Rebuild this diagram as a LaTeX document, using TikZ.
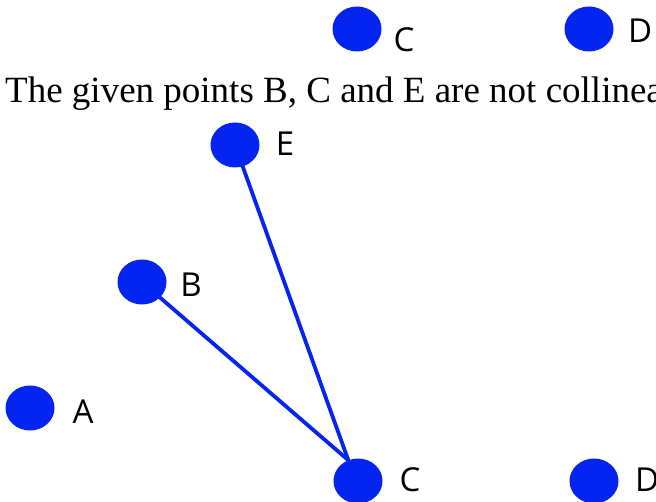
\documentclass[tikz,border=0pt]{standalone}
\usepackage{fontspec}
\setmainfont{Liberation Serif}
\newfontfamily\labelfont{Open Sans}
\usepackage{tikz}
\usetikzlibrary{shapes.geometric}
\definecolor{dotblue}{RGB}{4,36,240}
\definecolor{labelblack}{RGB}{0,0,0}
\tikzset{
  pointdot/.style={ellipse, fill=dotblue, draw=none,
    minimum width=49pt, minimum height=45pt, inner sep=0pt},
  ptlabel/.style={font=\fontsize{33}{33}\labelfont, color=labelblack, inner sep=0pt},
  segment/.style={line width=3.8pt, color=dotblue, line cap=round},
  caption/.style={font=\fontsize{37}{37}\selectfont, anchor=base west, inner sep=0pt}
}

\begin{document}
\begin{tikzpicture}[x=1pt, y=-1pt]
  \useasboundingbox (0,0) rectangle (656,502);
  \clip (0,0) rectangle (656,502);

  % Top row
  \node[pointdot] (Ctop) at (357,29) {};
  \node[ptlabel] (labCtop) at (404,40) {C};
  \node[pointdot] (Dtop) at (589,29) {};
  \node[ptlabel, anchor=west] (labDtop) at (628,31) {D};

  % Statement
  \node[caption] (stmt) at (5,103) {The given points B, C and E are not collinear.};

  % Points
  \node[pointdot] (E) at (235,145) {};
  \node[ptlabel] (labE) at (285,144) {E};
  \node[pointdot] (B) at (142,282) {};
  \node[ptlabel] (labB) at (191,285) {B};
  \node[pointdot] (A) at (30,408) {};
  \node[ptlabel] (labA) at (83,412) {A};
  \node[pointdot] (C) at (358,481) {};
  \node[ptlabel] (labC) at (410,480) {C};
  \node[pointdot] (D) at (594,481) {};
  \node[ptlabel, anchor=west] (labD) at (635,480) {D};

  % Segments to C
  \draw[segment] (E.center) -- (C.115);
  \draw[segment] (B.center) -- (C.115);
\end{tikzpicture}
\end{document}
